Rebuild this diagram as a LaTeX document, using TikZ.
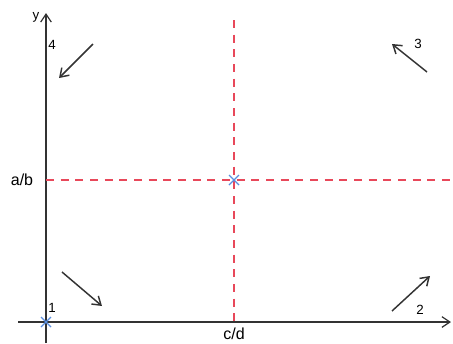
\documentclass[tikz,border=0pt]{standalone}
\usepackage{fontspec}
\setmainfont{Liberation Sans}
\usetikzlibrary{arrows.meta,positioning,calc}
\definecolor{axisgray}{HTML}{333333}
\definecolor{guidered}{HTML}{E8485A}
\definecolor{markblue}{HTML}{5B8FE0}
\begin{document}
\begin{tikzpicture}[x=0.75pt,y=-0.75pt,
  axis/.style={draw=axisgray,line width=0.9pt,-{Straight Barb[length=6pt,width=8pt]}},
  guide/.style={draw=guidered,line width=0.8pt,dash pattern=on 6pt off 5pt},
  flow/.style={draw=axisgray,line width=1.1pt,-{Straight Barb[length=6pt,width=8pt]}},
  lbl/.style={inner sep=0pt,font=\fontsize{10}{10}\selectfont},
  cross/.style={draw=markblue,line width=0.9pt}]
  \useasboundingbox (0,0) rectangle (453,343);
  % Axes
  \coordinate (xs) at (18,322);
  \coordinate (xe) at (451,322);
  \coordinate (ys) at (46,343);
  \coordinate (ye) at (46,13);
  \draw[axis] (xs) -- (xe);
  \draw[axis] (ys) -- (ye);
  \node[lbl] (ylab) at (36,17) {y};
  \node[lbl,font=\fontsize{12}{12}\selectfont] (ab) at (22,180) {a/b};
  \node[lbl,font=\fontsize{12}{12}\selectfont] (cd) at (234,334) {c/d};

  % Equilibrium guides
  \coordinate (eq) at (234,180);
  \coordinate (vtop) at (234,20);
  \coordinate (vbot) at (234,322);
  \coordinate (hleft) at (46,180);
  \coordinate (hright) at (453,180);
  \draw[guide] (vtop) -- (vbot);
  \draw[guide] (hleft) -- (hright);

  % Points
  \coordinate (origin) at (46,322);
  \draw[cross] ($(eq)+(-5,-5)$) -- ($(eq)+(5,5)$) ($(eq)+(-5,5)$) -- ($(eq)+(5,-5)$);
  \draw[cross] ($(origin)+(-5,-5)$) -- ($(origin)+(5,5)$) ($(origin)+(-5,5)$) -- ($(origin)+(5,-5)$);

  % Region labels
  \node[lbl] (r1) at (52,308) {1};
  \node[lbl] (r2) at (420,310) {2};
  \node[lbl] (r3) at (418,44) {3};
  \node[lbl] (r4) at (52,45) {4};

  % Direction arrows
  \coordinate (a1s) at (62,272);  \coordinate (a1e) at (102,306);
  \coordinate (a2s) at (392,311); \coordinate (a2e) at (430,276);
  \coordinate (a3s) at (427,72);  \coordinate (a3e) at (392,44);
  \coordinate (a4s) at (93,44);   \coordinate (a4e) at (59,78);
  \draw[flow] (a1s) -- (a1e);
  \draw[flow] (a2s) -- (a2e);
  \draw[flow] (a3s) -- (a3e);
  \draw[flow] (a4s) -- (a4e);
\end{tikzpicture}
\end{document}
